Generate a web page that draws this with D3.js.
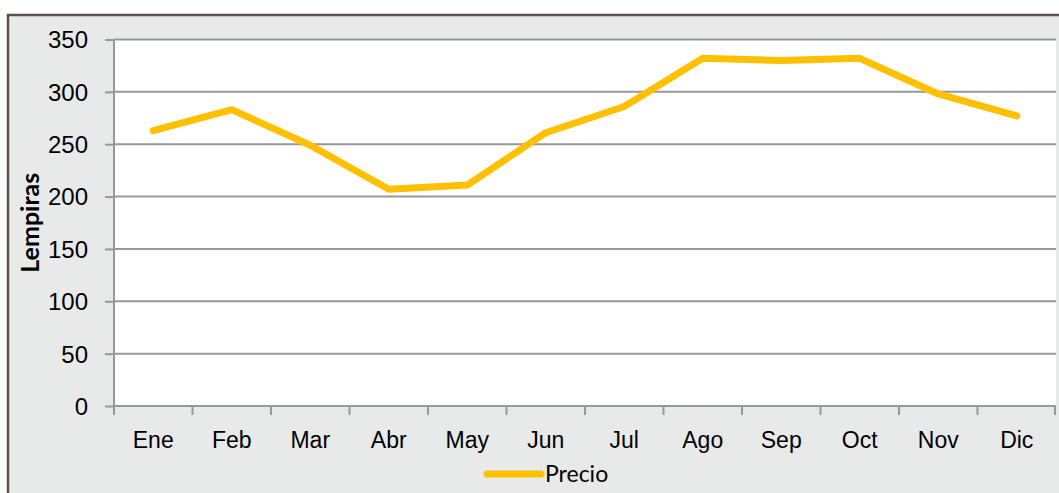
<!DOCTYPE html>
<html>
<head>
<meta charset="utf-8">
<script src="https://cdn.jsdelivr.net/npm/d3@7"></script>
<style>
  body { margin: 0; background: #fff; }
  svg { display: block; font-family: Lato, "Open Sans", sans-serif; }
</style>
</head>
<body>
<svg id="chart" width="1059" height="493"></svg>
<script>
// meses y precio mensual (Lempiras)
const months = ["Ene", "Feb", "Mar", "Abr", "May", "Jun", "Jul", "Ago", "Sep", "Oct", "Nov", "Dic"];
const precio = [263, 283, 249, 207, 211, 261, 286, 332, 330, 332, 298, 277];
const yTicks = [0, 50, 100, 150, 200, 250, 300, 350];
const seriesName = "Precio";
const yLabel = "Lempiras";

const svg = d3.select('#chart');
const W = 1059, H = 493;
const plot = { left: 114, right: 1056, top: 39.5, bottom: 406 };

// marco del grafico
svg.append('rect')
    .attr('x', 8).attr('y', 15)
    .attr('width', W).attr('height', H)
    .attr('fill', '#e8eae9')
    .attr('stroke', '#5b5247')
    .attr('stroke-width', 2.5);

// area de trazado
svg.append('rect')
    .attr('x', plot.left).attr('y', plot.top)
    .attr('width', plot.right - plot.left).attr('height', plot.bottom - plot.top)
    .attr('fill', '#fff');

const x = d3.scaleBand().domain(months).range([plot.left, plot.right]);
const y = d3.scaleLinear().domain([0, 350]).range([plot.bottom, plot.top]);

// lineas de cuadricula + eje y
const yAxis = svg.append('g')
    .attr('transform', `translate(${plot.left},0)`)
    .call(d3.axisLeft(y).tickValues(yTicks).tickSize(9).tickPadding(17));
yAxis.select('.domain').remove();
yAxis.selectAll('line').attr('stroke', '#989898').attr('stroke-width', 2);
yAxis.selectAll('text').attr('font-size', 24).attr('fill', '#000').attr('dy', '0.35em');

svg.append('g').selectAll('line')
    .data(yTicks)
    .enter().append('line')
    .attr('x1', plot.left).attr('x2', plot.right)
    .attr('y1', d => y(d)).attr('y2', d => y(d))
    .attr('stroke', '#989898')
    .attr('stroke-width', 2);

svg.append('line')
    .attr('x1', plot.left).attr('x2', plot.left)
    .attr('y1', plot.top).attr('y2', plot.bottom)
    .attr('stroke', '#989898').attr('stroke-width', 2);

// eje x
const xAxis = svg.append('g')
    .attr('transform', `translate(0,${plot.bottom})`)
    .call(d3.axisBottom(x).tickSize(0).tickPadding(26));
xAxis.select('.domain').remove();
xAxis.selectAll('text').attr('font-size', 23).attr('fill', '#000');

// marcas entre categorias
const edges = months.map(m => x(m)).concat([plot.right - 1]);
svg.append('g').selectAll('line')
    .data(edges)
    .enter().append('line')
    .attr('x1', d => d).attr('x2', d => d)
    .attr('y1', plot.bottom).attr('y2', plot.bottom + 9)
    .attr('stroke', '#989898').attr('stroke-width', 2);

// titulo eje y
svg.append('text')
    .attr('transform', `translate(39,${(plot.top + plot.bottom) / 2}) rotate(-90)`)
    .attr('text-anchor', 'middle')
    .attr('font-size', 25)
    .attr('font-weight', 'bold')
    .text(yLabel);

// serie
const line = d3.line()
    .x((d, i) => x(months[i]) + x.bandwidth() / 2)
    .y(d => y(d));

svg.append('path')
    .datum(precio)
    .attr('d', line)
    .attr('fill', 'none')
    .attr('stroke', '#ffc000')
    .attr('stroke-width', 7)
    .attr('stroke-linecap', 'round')
    .attr('stroke-linejoin', 'round');

// leyenda
const legend = svg.append('g').attr('transform', 'translate(487,474)');
legend.append('line')
    .attr('x1', 0).attr('x2', 54)
    .attr('stroke', '#ffc000')
    .attr('stroke-width', 7)
    .attr('stroke-linecap', 'round');
legend.append('text')
    .attr('x', 58).attr('y', 8)
    .attr('font-size', 23)
    .text(seriesName);
</script>
</body>
</html>
